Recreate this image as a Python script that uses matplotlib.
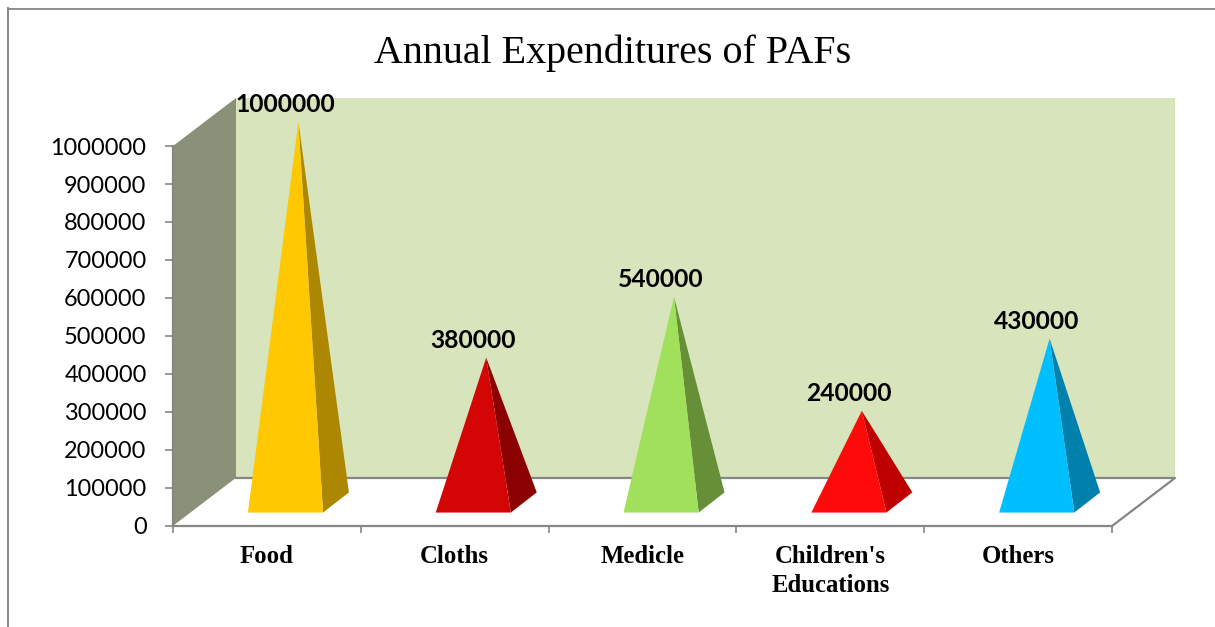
import matplotlib
matplotlib.use("Agg")
import matplotlib.pyplot as plt
from matplotlib.patches import Polygon
from matplotlib.lines import Line2D

title = "Annual Expenditures of PAFs"
categories = ["Food", "Cloths", "Medicle", "Children's\nEducations", "Others"]
values = [1000000, 380000, 540000, 240000, 430000]
front_colors = ["#FFC800", "#D40505", "#A0E05A", "#FF0A0A", "#00BFFF"]
side_colors = ["#AD8700", "#8B0000", "#668F38", "#BF0000", "#0080AD"]
y_ticks = [0, 100000, 200000, 300000, 400000, 500000, 600000, 700000, 800000, 900000, 1000000]

W, H = 1215, 627
GRAY = "#868686"
fig = plt.figure(figsize=(W / 100, H / 100), dpi=100, facecolor="white")
ax = fig.add_axes([173 / W, (H - 526) / H, 939 / W, 380 / H])
n = len(categories)
ax.set_xlim(0, n)
ax.set_ylim(0, 1000000)
ax.patch.set_visible(False)

# depth vector of the 3D box, in data units
dx = 63 / (939 / n)
dy = 48 / 380 * 1000000
ymax = 1000000

# back wall, side wall
ax.add_patch(Polygon([(dx, dy), (n + dx, dy), (n + dx, ymax + dy), (dx, ymax + dy)],
                     fc="#D7E4BC", ec="none", clip_on=False, zorder=1))
ax.add_patch(Polygon([(0, 0), (dx, dy), (dx, ymax + dy), (0, ymax)],
                     fc="#8A9178", ec="none", clip_on=False, zorder=1))
# floor
ax.add_patch(Polygon([(0, 0), (n, 0), (n + dx, dy), (dx, dy)],
                     fc="white", ec="none", clip_on=False, zorder=1))
ax.plot([dx, n + dx, n], [dy, dy, 0], color=GRAY, lw=1.6, clip_on=False, zorder=2)

# pyramids
half_w = 0.2
x_near, x_far = 0.295, 0.706
y_near, y_far = 0.28, 0.70
for i, (v, fc, sc) in enumerate(zip(values, front_colors, side_colors)):
    c = i + 0.5
    fl = (c - half_w + x_near * dx, y_near * dy)
    fr = (c + half_w + x_near * dx, y_near * dy)
    br = (c + half_w + x_far * dx, y_far * dy)
    apex = (c + 0.5 * dx, 0.5 * dy + v)
    ax.add_patch(Polygon([fr, br, apex], fc=sc, ec="none", clip_on=False, zorder=3))
    ax.add_patch(Polygon([fl, fr, apex], fc=fc, ec="none", clip_on=False, zorder=4))
    ax.annotate(f"{v}", xy=(c + x_near * dx, apex[1]), xytext=(0, 12.5),
                textcoords="offset points", ha="center", va="center",
                family="Lato", fontweight="bold", fontsize=17.7, color="black",
                annotation_clip=False, zorder=6)

for s in ("top", "right"):
    ax.spines[s].set_visible(False)
for s in ("left", "bottom"):
    ax.spines[s].set_color(GRAY)
    ax.spines[s].set_linewidth(1.6)
    ax.spines[s].set_zorder(5)

ax.set_yticks(y_ticks)
ax.set_yticklabels([str(t) for t in y_ticks], family="Lato", fontsize=16.9, color="black")
ax.tick_params(axis="y", length=6, width=1.2, color=GRAY, pad=13)
ax.set_xticks(range(n + 1))
ax.set_xticklabels([""] * (n + 1))
ax.tick_params(axis="x", which="major", length=5, width=1.2, color=GRAY)
ax.set_xticks([i + 0.5 for i in range(n)], minor=True)
ax.set_xticklabels(categories, minor=True, family="Liberation Serif", fontweight="bold",
                   fontsize=17.8, color="black", linespacing=1.35)
ax.tick_params(axis="x", which="minor", length=0, pad=13.5)

fig.text(613 / W, 1 - 53 / H, title, family="Liberation Serif", fontsize=28.8,
         ha="center", va="center", color="black")

# outer frame
fig.add_artist(Line2D([8 / W, 8 / W], [0, 1 - 8 / H], color=GRAY, lw=1.4))
fig.add_artist(Line2D([8 / W, 1], [1 - 8.5 / H, 1 - 8.5 / H], color=GRAY, lw=1.3))

fig.savefig("out.png", dpi=100, facecolor="white")
